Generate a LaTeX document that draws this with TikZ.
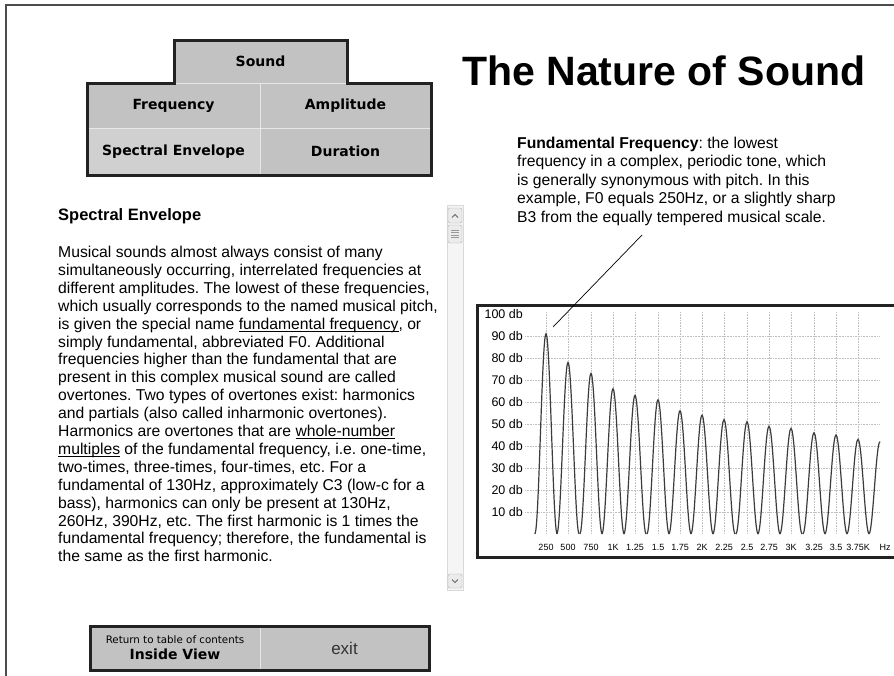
\documentclass[tikz,border=0pt]{standalone}
\usepackage{fontspec}
\setmainfont{Liberation Sans}
\newfontfamily\verd{DejaVu Sans}
\definecolor{btnfill}{RGB}{194,194,194}
\definecolor{btnsel}{RGB}{208,208,208}
\definecolor{edge}{RGB}{34,34,34}
\definecolor{wavecol}{RGB}{60,60,60}
\newcommand\ulink[1]{\setbox0=\hbox{#1}\rlap{\rule[-2.4pt]{\wd0}{0.7pt}}\box0\relax}
\begin{document}
\begin{tikzpicture}[x=1pt, y=-1pt,
  frame/.style={line width=3pt, draw=edge, line join=miter},
  cell/.style={draw=white!60!btnfill, line width=1pt, fill=btnfill, inner sep=0pt, font=\verd\bfseries\fontsize{14}{16}\selectfont},
  gridline/.style={densely dotted, draw=black!25, line width=0.6pt},
  wave/.style={draw=wavecol, line width=1.2pt},
  ylab/.style={anchor=east, inner sep=0pt, font=\fontsize{12.5}{14}\selectfont},
  xlab/.style={inner sep=0pt, font=\fontsize{9}{11}\selectfont},
  txt/.style={inner sep=0pt, align=left, font=\frenchspacing\fontsize{15.7}{17.9}\selectfont}]
\useasboundingbox (0,0) rectangle (894,675);
\clip (0,0) rectangle (894,675);
\draw[line width=1.5pt, draw=black!70] (6,680) -- (6,5) -- (900,5);
\node[cell, minimum width=173pt, minimum height=43pt] (sound) at (260.5,61.5) {Sound};
\node[cell, minimum width=173pt, minimum height=45pt] (freq) at (173.5,105.5) {Frequency};
\node[cell, minimum width=171pt, minimum height=45pt] (ampl) at (345.5,105.5) {Amplitude};
\node[cell, fill=btnsel, minimum width=173pt, minimum height=47pt] (spec) at (173.5,151.5) {Spectral Envelope};
\node[cell, minimum width=171pt, minimum height=47pt] (dur) at (345.5,151.5) {Duration};
\draw[frame] (87,175) -- (87,83) -- (174,83) -- (174,40) -- (347,40) -- (347,83) -- (431,83) -- (431,175) -- cycle;
\node[anchor=base west, inner sep=0pt, font=\bfseries\fontsize{41}{48}\selectfont] (title) at (462,85) {The Nature of Sound};
\node[anchor=base west, inner sep=0pt, font=\bfseries\fontsize{16.5}{18}\selectfont] (head) at (58,220) {Spectral Envelope};
\node[txt, anchor=north west] (body) at (58,246) {Musical sounds almost always consist of many\\
simultaneously occurring, interrelated frequencies at\\
different amplitudes. The lowest of these frequencies,\\
which usually corresponds to the named musical pitch,\\
is given the special name \ulink{fundamental frequency}, or\\
simply fundamental, abbreviated F0. Additional\\
frequencies higher than the fundamental that are\\
present in this complex musical sound are called\\
overtones. Two types of overtones exist: harmonics\\
and partials (also called inharmonic overtones).\\
Harmonics are overtones that are \ulink{whole-number}\\
\ulink{multiples} of the fundamental frequency, i.e. one-time,\\
two-times, three-times, four-times, etc. For a\\
fundamental of 130Hz, approximately C3 (low-c for a\\
bass), harmonics can only be present at 130Hz,\\
260Hz, 390Hz, etc. The first harmonic is 1 times the\\
fundamental frequency; therefore, the fundamental is\\
the same as the first harmonic.};
\draw[draw=black!15, fill=black!4] (447,205) rectangle (463,590);
\draw[draw=black!30, fill=black!8, rounded corners=1.5pt] (448,208) rectangle (462,223) (448,225) rectangle (462,243) (448,574) rectangle (462,588);
\draw[black!60, line width=1pt] (452,217.5) -- (455,214.5) -- (458,217.5) (452,579.5) -- (455,582.5) -- (458,579.5);
\foreach \y in {230,232.5,235,237.5}
  \draw[black!40] (451,\y) -- (459,\y);
\node[txt, anchor=north west, font=\frenchspacing\fontsize{15.7}{18.4}\selectfont] (note) at (517,137) {\textbf{Fundamental Frequency}: the lowest\\
frequency in a complex, periodic tone, which\\
is generally synonymous with pitch. In this\\
example, F0 equals 250Hz, or a slightly sharp\\
B3 from the equally tempered musical scale.};
\draw[frame, fill=white] (477,305) rectangle (900,557);
\foreach \d in {10,20,...,90}
  \draw[gridline] (525,{534-2.2*\d}) -- (879,{534-2.2*\d});
\foreach \d in {10,20,...,100}
  \node[ylab] (db\d) at (523,{534-2.2*\d}) {\d\ db};
\foreach \x/\h/\t [count=\k] in {546/91/250, 568/78/500, 591/73/750, 613/66/1K, 635/63/1.25, 658/61/1.5, 680/56/1.75, 702/54/2K, 724/52/2.25, 747/51/2.5, 769/49/2.75, 791/48/3K, 814/46/3.25, 836/45/3.5, 858/43/3.75K}
  {\draw[gridline] (\x,312) -- (\x,533);
   \draw[wave] plot[variable=\s, domain=-1:1, samples=25, smooth] ({\x+11.15*\s},{534-1.1*\h*(1+cos(180*\s))});
   \node[xlab] (f\k) at (\x,547) {\t};};
\draw[wave] plot[variable=\s, domain=-1:0, samples=13, smooth] ({880+11.15*\s},{534-1.1*42*(1+cos(180*\s))});
\node[xlab] (hz) at (885,547) {Hz};
\coordinate (f0) at (553,327);
\coordinate (tail) at (642,235);
\draw[line width=0.7pt] (tail) -- (f0);
\node[cell, align=center, minimum width=170pt, minimum height=44pt] (back) at (175,648) {{\mdseries\fontsize{10.3}{12}\selectfont Return to table of contents}\\{\fontsize{14}{16}\selectfont Inside View}};
\node[cell, minimum width=169pt, minimum height=44pt, font=\fontsize{17}{19}\selectfont, text=black!80] (exit) at (344.5,648) {exit};
\draw[frame] (90,626) rectangle (429,670);
\end{tikzpicture}
\end{document}
